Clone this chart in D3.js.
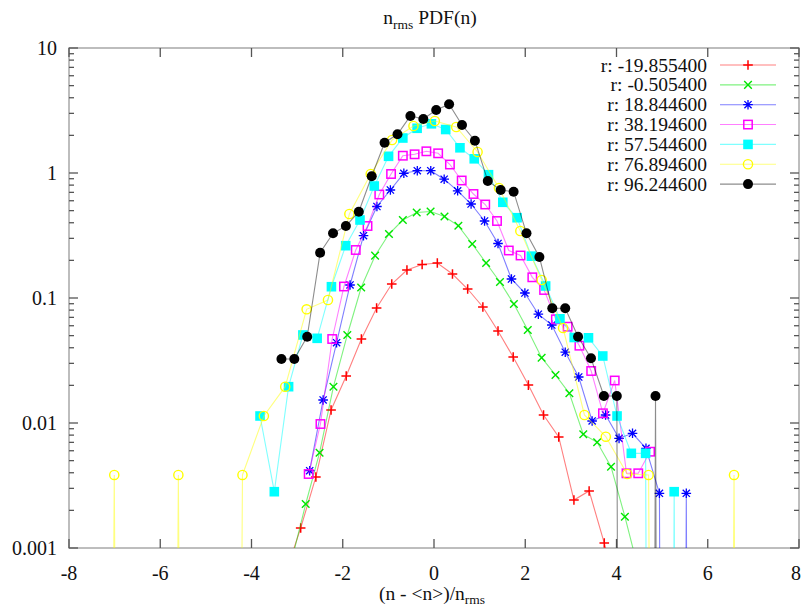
<!DOCTYPE html>
<html><head><meta charset="utf-8">
<script src="https://cdn.jsdelivr.net/npm/d3@7"></script>
<style>body{margin:0;background:#fff}svg{display:block}</style>
</head><body><svg id="c" width="801" height="611"></svg>
<script>
const TINY = 1e-30;
const seriesLabels = ["r: -19.855400","r: -0.505400","r: 18.844600","r: 38.194600","r: 57.544600","r: 76.894600","r: 96.244600"];
const seriesColors = ["#ff0000","#00e600","#0000ff","#ff00ff","#00ffff","#ffff00","#000000"];
const seriesMarkers = ["plus","cross","star","square","fsquare","circle","fcircle"];

const redX = [-3.255,-2.922,-2.589,-2.256,-1.924,-1.591,-1.258,-0.926,-0.593,-0.260,0.073,0.405,0.738,1.071,1.403,1.736,2.069,2.401,2.734,3.067,3.400,3.732,4.065];
const redY = [6.19e-4,1.445e-3,3.70e-3,0.01271,0.02377,0.04699,0.08318,0.1294,0.1675,0.1854,0.1905,0.1556,0.1180,0.0847,0.0545,0.0337,0.0201,0.01159,0.00773,0.00242,0.00286,0.001096,3.84e-4];

const greenX = [-3.117,-2.812,-2.508,-2.204,-1.900,-1.596,-1.291,-0.987,-0.683,-0.379,-0.075,0.230,0.534,0.838,1.142,1.446,1.751,2.055,2.359,2.663,2.967,3.272,3.576,3.880,4.184,4.488];
const greenY = [8.02e-4,2.249e-3,5.785e-3,0.01952,0.0506,0.1213,0.2181,0.3251,0.4207,0.4831,0.4920,0.4487,0.378,0.2704,0.1905,0.1343,0.0895,0.0555,0.0333,0.0242,0.01728,8.12e-3,7.01e-3,4.47e-3,1.780e-3,6.55e-4];

const blueX = [-2.725,-2.430,-2.135,-1.840,-1.545,-1.251,-0.956,-0.661,-0.366,-0.071,0.223,0.518,0.813,1.108,1.403,1.698,1.992,2.287,2.582,2.877,3.172,3.466,3.761,4.056,4.351,4.646,4.941,5.235,5.530,5.825];
const blueY = [4.153e-3,0.01528,0.04389,0.1271,0.3150,0.5395,0.7311,0.9945,1.043,1.043,0.8920,0.7205,0.5649,0.4130,0.2729,0.1419,0.1096,0.07421,0.0608,0.03683,0.02333,0.01038,0.01159,7.54e-3,8.27e-3,6.27e-3,2.739e-3,TINY,2.739e-3,TINY];

const magentaX = [-2.747,-2.489,-2.231,-1.973,-1.715,-1.457,-1.199,-0.941,-0.683,-0.425,-0.167,0.091,0.349,0.607,0.865,1.123,1.381,1.639,1.897,2.155,2.413,2.671,2.929,3.187,3.445,3.703,3.961,4.219,4.477,4.735];
const magentaY = [3.908e-3,9.817e-3,0.04699,0.1236,0.2421,0.3767,0.6730,0.9817,1.375,1.411,1.491,1.437,1.169,0.8710,0.6792,0.5598,0.4130,0.2399,0.2188,0.1464,0.1159,0.06755,0.05894,0.04153,0.02606,0.01196,0.02188,3.959e-3,3.959e-3,5.894e-3];

const cyanX = [-3.813,-3.500,-3.187,-2.874,-2.561,-2.248,-1.935,-1.622,-1.309,-0.996,-0.683,-0.370,-0.057,0.256,0.569,0.882,1.195,1.508,1.821,2.134,2.447,2.760,3.073,3.386,3.699,4.012,4.325,4.638,4.951,5.264,5.577];
const cyanY = [0.01138,2.821e-3,0.01952,0.0506,0.04759,0.1231,0.2621,0.4207,0.7870,1.360,1.905,2.279,2.475,2.228,1.591,1.299,0.9692,0.5830,0.4388,0.2161,0.1247,0.06817,0.04831,0.04804,0.03436,0.01138,5.72e-3,5.72e-3,TINY,2.821e-3,TINY];

const yellowX = [-7.476,-7.008,-6.540,-6.071,-5.603,-5.134,-4.666,-4.198,-3.729,-3.261,-2.792,-2.324,-1.855,-1.387,-0.919,-0.450,0.018,0.487,0.955,1.424,1.892,2.360,2.829,3.297,3.766,4.234,4.703,5.171,5.640,6.108,6.576,7.045];
const yellowY = [TINY,3.84e-3,TINY,TINY,3.84e-3,TINY,TINY,3.84e-3,0.01138,0.01952,0.08121,0.09638,0.4699,0.9817,1.837,2.377,2.606,2.333,1.472,0.7586,0.3436,0.1393,0.05754,0.01159,7.77e-3,3.91e-3,3.84e-3,TINY,TINY,TINY,3.84e-3,TINY];

const blackX = [-3.344,-3.062,-2.779,-2.496,-2.213,-1.931,-1.648,-1.365,-1.083,-0.800,-0.517,-0.234,0.048,0.331,0.614,0.897,1.179,1.462,1.745,2.027,2.310,2.593,2.876,3.158,3.441,3.724,4.007,4.289,4.572,4.855,5.138];
const blackY = [0.03251,0.03251,0.04900,0.2304,0.3293,0.3767,0.4902,0.9410,1.747,2.040,2.858,2.704,3.192,3.545,2.421,1.813,0.8630,0.7311,0.7086,0.3293,0.2128,0.08271,0.08271,0.04900,0.03293,0.01644,0.01644,TINY,TINY,0.01644,TINY];

const xTickValues = [-8,-6,-4,-2,0,2,4,6,8];
const yTickValues = [0.001,0.01,0.1,1,10];
const yTickLabels = ["0.001","0.01","0.1","1","10"];

const seriesX = [redX,greenX,blueX,magentaX,cyanX,yellowX,blackX];
const seriesY = [redY,greenY,blueY,magentaY,cyanY,yellowY,blackY];

const L = 69, R = 799, T = 48, B = 548;
const svg = d3.select("#c");
const x = d3.scaleLinear().domain([-8,8]).range([L,R]);
const y = d3.scaleLog().domain([0.001,10]).range([B,T]);
const FONT = "Liberation Serif, Times New Roman, serif";

svg.append("defs").append("clipPath").attr("id","clip")
  .append("rect").attr("x",L).attr("y",T).attr("width",R-L).attr("height",B-T);

// border
svg.append("rect").attr("x",L).attr("y",T).attr("width",R-L).attr("height",B-T)
  .attr("fill","none").attr("stroke","#a8a8a8").attr("stroke-width",1.5);

const tk = svg.append("g").attr("stroke","#555").attr("stroke-width",1.3);
xTickValues.forEach(v=>{
  const px = x(v);
  tk.append("line").attr("x1",px).attr("x2",px).attr("y1",B).attr("y2",B-9);
  tk.append("line").attr("x1",px).attr("x2",px).attr("y1",T).attr("y2",T+9);
});
y.ticks().forEach(v=>{
  const py = y(v);
  const major = yTickValues.some(t=>Math.abs(t-v)/t<1e-6);
  const len = major ? 9 : 5;
  tk.append("line").attr("x1",L).attr("x2",L+len).attr("y1",py).attr("y2",py);
  tk.append("line").attr("x1",R).attr("x2",R-len).attr("y1",py).attr("y2",py);
});

// tick labels
xTickValues.forEach((v,i)=>{
  const last = i===xTickValues.length-1;
  svg.append("text").attr("x",last?801:x(v)).attr("y",B+32).attr("text-anchor",last?"end":"middle")
    .attr("font-family",FONT).attr("font-size",20).attr("fill","#111").text(String(v));
});
yTickValues.forEach((v,i)=>{
  svg.append("text").attr("x",L-12).attr("y",y(v)+7).attr("text-anchor","end")
    .attr("font-family",FONT).attr("font-size",20).attr("fill","#111").text(yTickLabels[i]);
});

// title
const title = svg.append("text").attr("x",430).attr("y",24).attr("text-anchor","middle")
  .attr("font-family",FONT).attr("font-size",19.5).attr("fill","#111");
title.append("tspan").text("n");
title.append("tspan").attr("dy",5).attr("font-size",13.5).text("rms");
title.append("tspan").attr("dy",-5).text(" PDF(n)");

// x label
const xl = svg.append("text").attr("x",432).attr("y",600).attr("text-anchor","middle")
  .attr("font-family",FONT).attr("font-size",19.5).attr("fill","#111");
xl.append("tspan").text("(n - <n>)/n");
xl.append("tspan").attr("dy",4).attr("font-size",13.5).text("rms");

function marker(g, type, cx, cy, color){
  const s = 4.8;
  if(type==="plus"){
    g.append("path").attr("d",`M${cx-s},${cy}H${cx+s}M${cx},${cy-s}V${cy+s}`).attr("stroke",color).attr("stroke-width",1.5).attr("fill","none");
  } else if(type==="cross"){
    const c=3.8;
    g.append("path").attr("d",`M${cx-c},${cy-c}L${cx+c},${cy+c}M${cx-c},${cy+c}L${cx+c},${cy-c}`).attr("stroke",color).attr("stroke-width",1.4).attr("fill","none");
  } else if(type==="star"){
    const c=3.6;
    g.append("path").attr("d",`M${cx-s},${cy}H${cx+s}M${cx},${cy-s}V${cy+s}M${cx-c},${cy-c}L${cx+c},${cy+c}M${cx-c},${cy+c}L${cx+c},${cy-c}`).attr("stroke",color).attr("stroke-width",1.3).attr("fill","none");
  } else if(type==="square"){
    g.append("rect").attr("x",cx-4.2).attr("y",cy-4.2).attr("width",8.4).attr("height",8.4).attr("stroke",color).attr("stroke-width",1.5).attr("fill","none");
  } else if(type==="fsquare"){
    g.append("rect").attr("x",cx-4.8).attr("y",cy-4.8).attr("width",9.6).attr("height",9.6).attr("fill",color);
  } else if(type==="circle"){
    g.append("circle").attr("cx",cx).attr("cy",cy).attr("r",4.6).attr("stroke",color).attr("stroke-width",1.4).attr("fill","none");
  } else if(type==="fcircle"){
    g.append("circle").attr("cx",cx).attr("cy",cy).attr("r",5).attr("fill",color);
  }
}

const plot = svg.append("g").attr("clip-path","url(#clip)");
const lineGen = d3.line().x(d=>x(d[0])).y(d=>y(d[1]));
seriesX.forEach((xs,i)=>{
  const data = xs.map((v,j)=>[v, seriesY[i][j]]);
  const g = plot.append("g");
  g.append("path").attr("d",lineGen(data)).attr("fill","none")
    .attr("stroke",seriesColors[i]).attr("stroke-width",1.1).attr("stroke-opacity",i===6?0.45:0.5);
  data.forEach(d=>{
    if(d[1]>=0.001 && d[1]<=10) marker(g, seriesMarkers[i], x(d[0]), y(d[1]), seriesColors[i]);
  });
});

// legend
seriesLabels.forEach((lab,i)=>{
  const cy = 65 + 19.85*i;
  svg.append("text").attr("x",707).attr("y",cy+6.5).attr("text-anchor","end")
    .attr("font-family",FONT).attr("font-size",19.5).attr("fill","#111").text(lab);
  svg.append("line").attr("x1",720).attr("x2",776).attr("y1",cy).attr("y2",cy)
    .attr("stroke",seriesColors[i]).attr("stroke-width",1.1).attr("stroke-opacity",i===6?0.45:0.5);
  marker(svg, seriesMarkers[i], 748, cy, seriesColors[i]);
});
</script></body></html>
